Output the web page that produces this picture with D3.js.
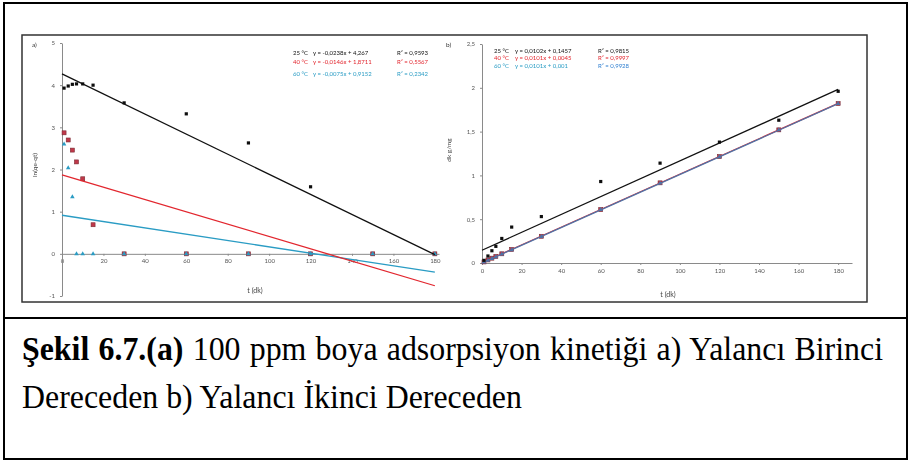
<!DOCTYPE html>
<html>
<head>
<meta charset="utf-8">
<script src="https://cdn.jsdelivr.net/npm/d3@7"></script>
<style>
  body { margin: 0; background: #fff; }
  svg { display: block; }
  .tick text { font-family: Lato, "Open Sans", sans-serif; fill: #555; }
</style>
</head>
<body>
<div id="figure"></div>
<script>
// sampling times (dk)
const times = [1, 3, 5, 7, 10, 15, 30, 60, 90, 120, 150, 180];
const temps = ["25 °C", "40 °C", "60 °C"];
const colors = ["#111111", "#e2262e", "#2a9cc4"];

// a) pseudo first order: ln(qe - qt)
const lnA25 = [3.93, 3.98, 4.02, 4.03, 4.03, 4.0, 3.58, 3.32, 2.63, 1.59, 0, 0];
const lnA40 = [2.87, 2.7, 2.46, 2.18, 1.78, 0.69, 0, 0, 0, 0, 0, 0];
const lnA60 = [2.6, 2.04, 1.35, 0, 0, 0, 0, 0, 0, 0, 0, 0];
const slopeA = [-0.0238, -0.0146, -0.0075];
const interceptA = [4.267, 1.8711, 0.9152];
const r2A = ["0,9593", "0,5567", "0,2342"];

// b) pseudo second order: t/qt
const tqB25 = [0.03, 0.08, 0.14, 0.19, 0.28, 0.41, 0.53, 0.93, 1.14, 1.38, 1.63, 1.96];
const tqB40 = [0.012, 0.035, 0.055, 0.075, 0.105, 0.155, 0.305, 0.61, 0.915, 1.215, 1.52, 1.82];
const tqB60 = [0.01, 0.03, 0.05, 0.07, 0.1, 0.15, 0.3, 0.61, 0.91, 1.21, 1.52, 1.82];
const slopeB = [0.0102, 0.0101, 0.0101];
const interceptB = [0.1457, 0.0045, 0.001];
const r2B = ["0,9815", "0,9997", "0,9928"];

const xTicks = [0, 20, 40, 60, 80, 100, 120, 140, 160, 180];
const yTicksA = [-1, 0, 1, 2, 3, 4, 5];
const yTicksB = [0, 0.5, 1, 1.5, 2, 2.5];

const captionBold = "Şekil 6.7.(a)";
const captionLine1 = "100 ppm boya adsorpsiyon kinetiği a) Yalancı Birinci";
const captionLine2 = "Dereceden b) Yalancı İkinci Dereceden";

const W = 909, H = 463;
const svg = d3.select("#figure").append("svg")
  .attr("width", W)
  .attr("height", H);

svg.append("defs").append("filter")
  .attr("id", "soft")
  .append("feGaussianBlur")
  .attr("stdDeviation", 0.35);

// table frame
svg.append("rect")
  .attr("x", 4).attr("y", 3).attr("width", 903).attr("height", 456)
  .attr("fill", "none").attr("stroke", "#000").attr("stroke-width", 2);
svg.append("line")
  .attr("x1", 4).attr("x2", 907).attr("y1", 318).attr("y2", 318)
  .attr("stroke", "#000").attr("stroke-width", 2);

const chart = svg.append("g").attr("filter", "url(#soft)");

chart.append("rect")
  .attr("x", 22).attr("y", 35).attr("width", 845).attr("height", 267)
  .attr("fill", "#fff").attr("stroke", "#333").attr("stroke-width", 1.5);

const fmt = d => String(d).replace(".", ",");

function styleAxis(g) {
  g.selectAll(".domain").attr("stroke", "#8a8a8a");
  g.selectAll(".tick line").attr("stroke", "#8a8a8a");
  g.selectAll(".tick text").style("font-size", "6px");
}

function marker(g, kind, color, cx, cy) {
  if (kind === 0) {
    g.append("rect").attr("x", cx - 1.6).attr("y", cy - 1.6)
      .attr("width", 3.2).attr("height", 3.2).attr("fill", color);
  } else if (kind === 1) {
    g.append("rect").attr("x", cx - 2).attr("y", cy - 2)
      .attr("width", 4).attr("height", 4)
      .attr("fill", "#c0394a").attr("stroke", "#7a2a33").attr("stroke-width", 0.6);
  } else {
    g.append("path")
      .attr("d", d3.symbol(d3.symbolTriangle, 9)())
      .attr("transform", `translate(${cx},${cy})`)
      .attr("fill", color);
  }
}

// ---------- panel a ----------
const xA = d3.scaleLinear().domain([0, 182]).range([62, 439]);
const yA = d3.scaleLinear().domain([-1, 5]).range([296, 43]);

chart.append("g")
  .attr("transform", `translate(0,${yA(0)})`)
  .call(d3.axisBottom(xA).tickValues(xTicks).tickSize(2).tickSizeOuter(0).tickPadding(3))
  .call(styleAxis);
chart.append("g")
  .attr("transform", `translate(${xA(0)},0)`)
  .call(d3.axisLeft(yA).tickValues(yTicksA).tickFormat(fmt).tickSize(2).tickSizeOuter(0).tickPadding(5))
  .call(styleAxis);

const seriesA = [lnA25, lnA40, lnA60];
seriesA.forEach((vals, i) => {
  const pts = chart.append("g");
  vals.forEach((v, j) => marker(pts, i, colors[i], xA(times[j]), yA(v)));
});
// trend lines from the fitted equations
[2, 1, 0].forEach(i => {
  chart.append("line")
    .attr("x1", xA(0)).attr("y1", yA(interceptA[i]))
    .attr("x2", xA(180)).attr("y2", yA(interceptA[i] + slopeA[i] * 180))
    .attr("stroke", colors[i]).attr("stroke-width", 1.3);
});

chart.append("text").attr("x", 32).attr("y", 47)
  .style("font", "6.5px Lato, sans-serif").attr("fill", "#333").text("a)");
chart.append("text")
  .attr("transform", "translate(37,165) rotate(-90)")
  .attr("text-anchor", "middle")
  .style("font", "6.5px Lato, sans-serif").attr("fill", "#444")
  .text("ln(qe-qt)");
chart.append("text").attr("x", 255).attr("y", 293)
  .attr("text-anchor", "middle")
  .style("font", "7px Lato, sans-serif").attr("fill", "#444")
  .text("t (dk)");

const legA = chart.append("g").style("font", "6px Lato, sans-serif");
[0, 1, 2].forEach(i => {
  const y = [55, 64, 76][i];
  const row = legA.append("text").attr("y", y).attr("fill", colors[i]);
  row.append("tspan").attr("x", 293).text(temps[i]);
  row.append("tspan").attr("x", 313)
    .text(`y = ${fmt(slopeA[i])}x + ${fmt(interceptA[i])}`);
  row.append("tspan").attr("x", 397).text("R² = " + r2A[i]);
});

// ---------- panel b ----------
const xB = d3.scaleLinear().domain([0, 187]).range([482, 852]);
const yB = d3.scaleLinear().domain([0, 2.5]).range([263, 44]);

chart.append("g")
  .attr("transform", `translate(0,${yB(0)})`)
  .call(d3.axisBottom(xB).tickValues(xTicks).tickSize(2).tickSizeOuter(0).tickPadding(4))
  .call(styleAxis);
chart.append("g")
  .attr("transform", `translate(${xB(0)},0)`)
  .call(d3.axisLeft(yB).tickValues(yTicksB).tickFormat(fmt).tickSize(2).tickSizeOuter(0).tickPadding(5))
  .call(styleAxis);

const seriesB = [tqB25, tqB40, tqB60];
const lineColorsB = ["#111111", "#e2262e", "#4f73a6"];
[1, 2, 0].forEach(i => {
  const pts = chart.append("g");
  seriesB[i].forEach((v, j) => marker(pts, i, i === 2 ? "#4f73a6" : colors[i], xB(times[j]), yB(v)));
  chart.append("line")
    .attr("x1", xB(0)).attr("y1", yB(interceptB[i]))
    .attr("x2", xB(180)).attr("y2", yB(interceptB[i] + slopeB[i] * 180))
    .attr("stroke", lineColorsB[i]).attr("stroke-width", 1.3);
});

chart.append("text").attr("x", 446).attr("y", 47)
  .style("font", "6.5px Lato, sans-serif").attr("fill", "#333").text("b)");
chart.append("text")
  .attr("transform", "translate(451,150) rotate(-90)")
  .attr("text-anchor", "middle")
  .style("font", "6.5px Lato, sans-serif").attr("fill", "#444")
  .text("dk g/mg");
chart.append("text").attr("x", 668).attr("y", 297)
  .attr("text-anchor", "middle")
  .style("font", "7px Lato, sans-serif").attr("fill", "#444")
  .text("t (dk)");

const legB = chart.append("g").style("font", "6px Lato, sans-serif");
[0, 1, 2].forEach(i => {
  const y = [53, 60, 68][i];
  const row = legB.append("text").attr("y", y).attr("fill", colors[i]);
  row.append("tspan").attr("x", 494).text(temps[i]);
  row.append("tspan").attr("x", 515)
    .text(`y = ${fmt(slopeB[i])}x + ${fmt(interceptB[i])}`);
  row.append("tspan").attr("x", 598).attr("fill", i === 2 ? "#2f7fd0" : null)
    .text("R² = " + r2B[i]);
});

// ---------- caption ----------
// slightly condensed serif; first line sized and justified to the column
const serif = "'Liberation Serif', 'Times New Roman', serif";
const squeeze = 0.95;
const cap = svg.append("g");
const l1 = cap.append("text")
  .attr("font-family", serif)
  .attr("font-size", 30)
  .attr("fill", "#000")
  .attr("transform", `translate(22,360) scale(${squeeze},1)`);
l1.append("tspan").attr("font-weight", "bold").text(captionBold);
l1.append("tspan").text(" " + captionLine1);

const capSize = 30 * (850 / squeeze) / l1.node().getComputedTextLength();
l1.attr("font-size", capSize);
const natural = l1.node().getComputedTextLength();
const gaps = (captionBold + " " + captionLine1).split(" ").length - 1;
l1.style("word-spacing", ((861 / squeeze - natural) / gaps) + "px");

cap.append("text")
  .attr("font-family", serif)
  .attr("font-size", capSize)
  .attr("fill", "#000")
  .attr("transform", `translate(22,408) scale(${squeeze},1)`)
  .text(captionLine2);
</script>
</body>
</html>
